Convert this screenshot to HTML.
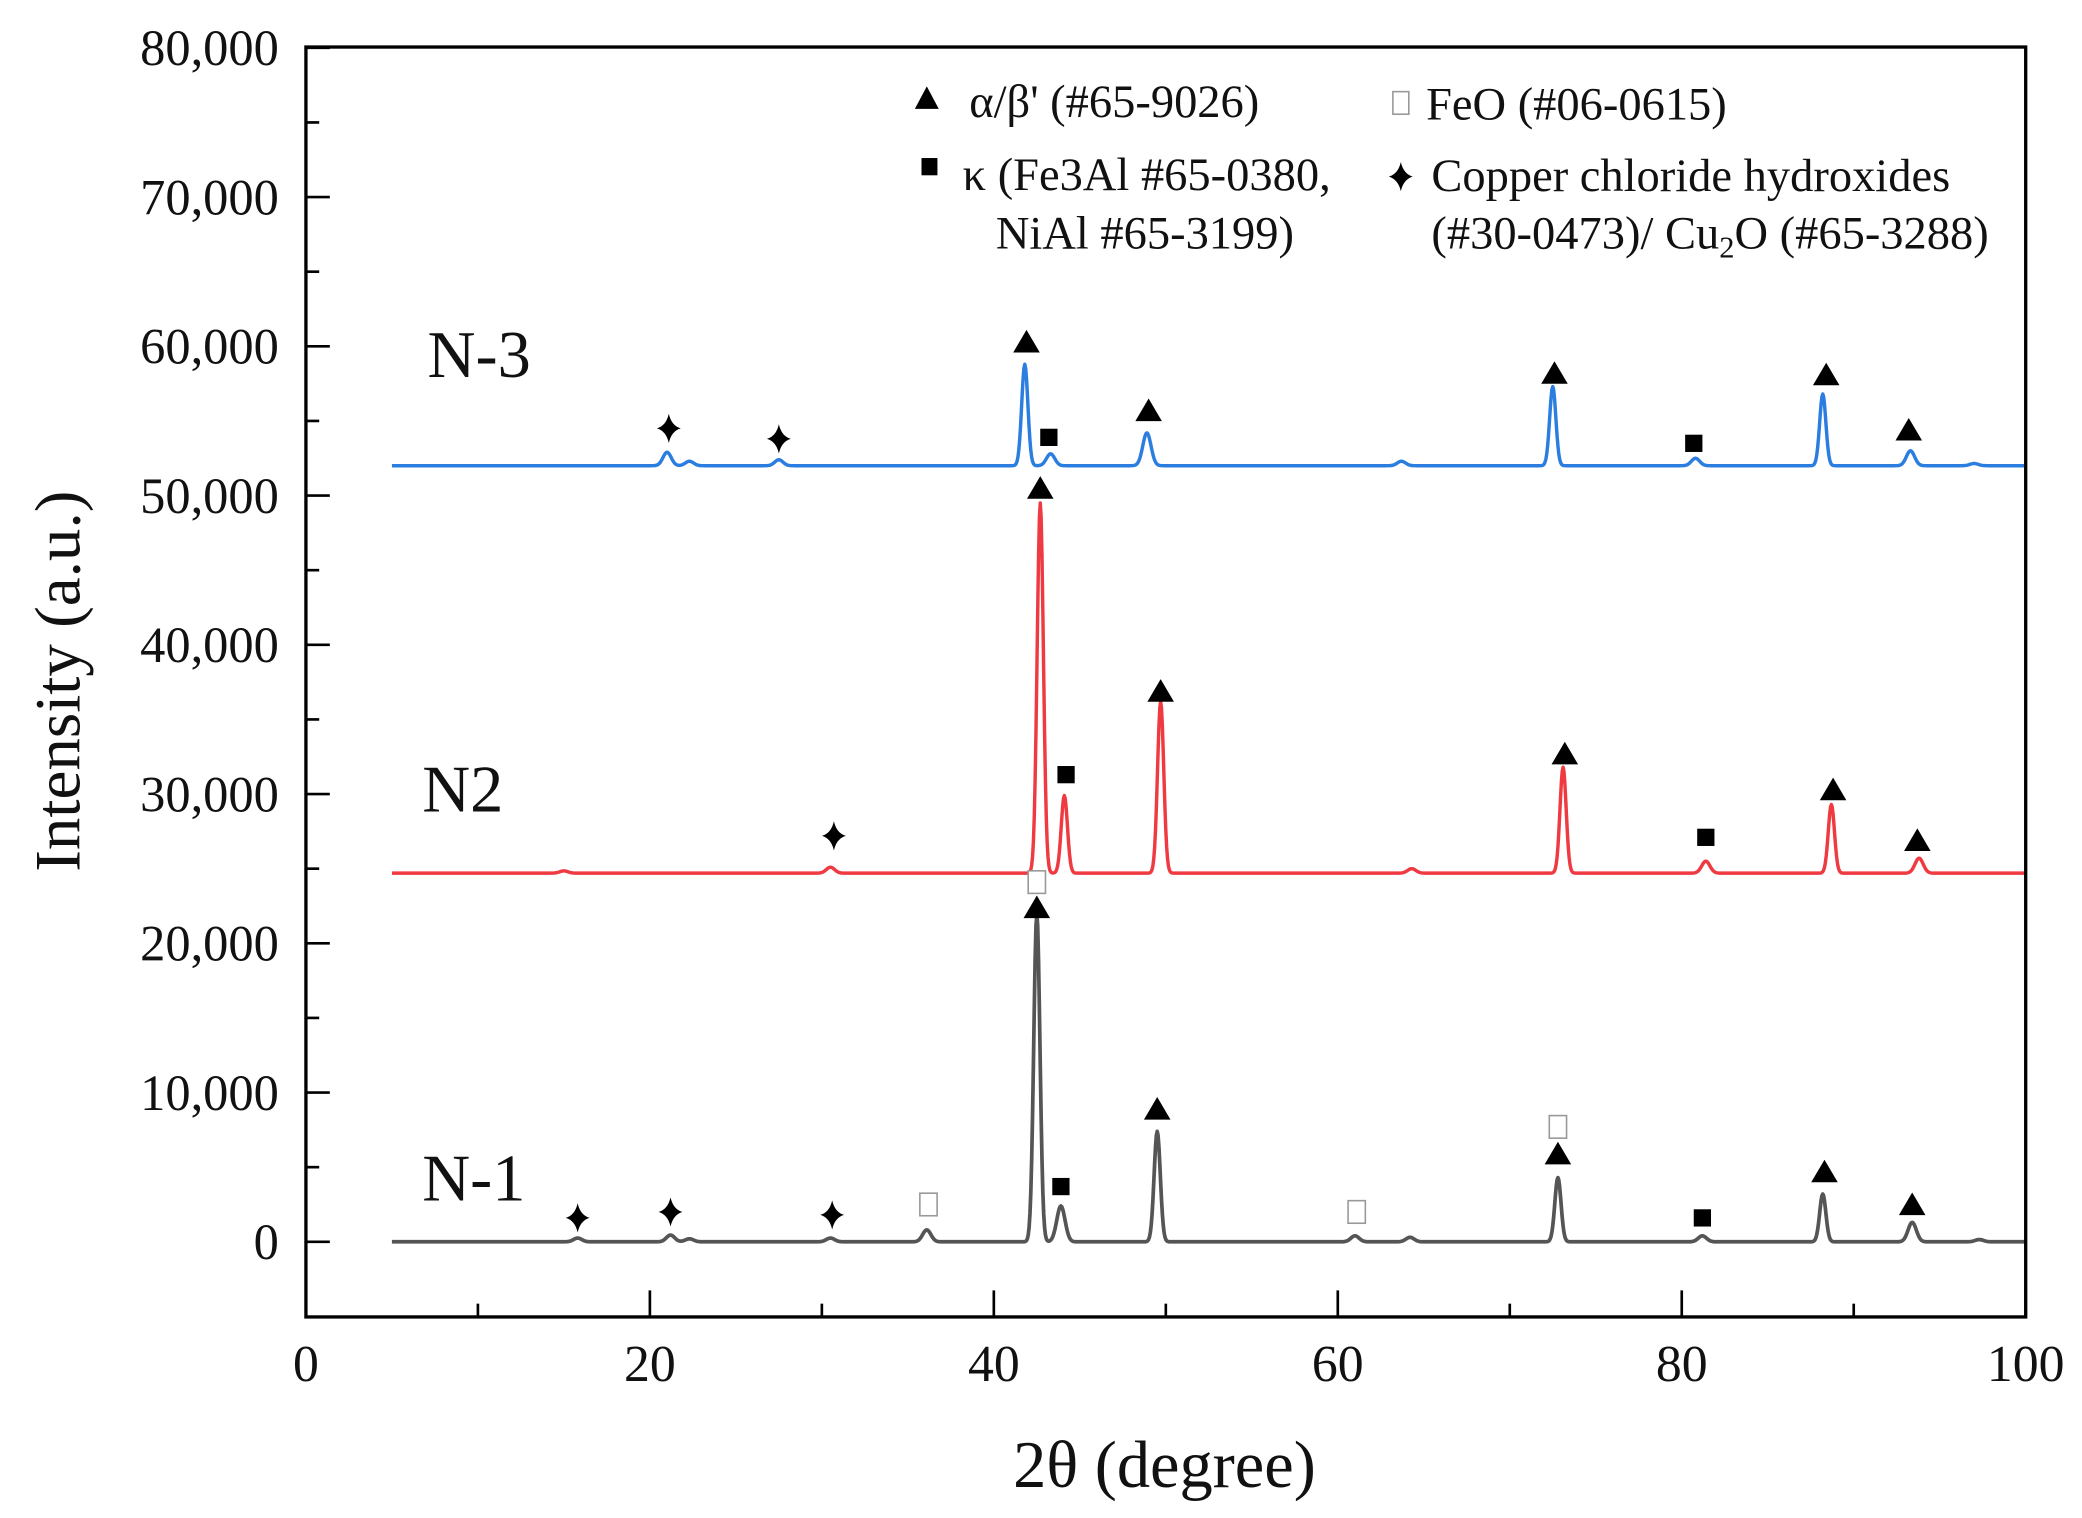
<!DOCTYPE html>
<html><head><meta charset="utf-8"><style>
html,body{margin:0;padding:0;background:#fff;}
svg{display:block;}
text{font-family:"Liberation Serif",serif;fill:#111;}
</style></head><body>
<svg id="chart" width="2082" height="1518" viewBox="0 0 1568 1143.2" xmlns="http://www.w3.org/2000/svg">
<g id="lines"></g>
<g id="markers"></g>
<g id="axes"></g>
<g font-size="35">
  <polygon points="698,65 689,82 707,82" fill="#000"/>
  <text x="730" y="88">α/β' (#65-9026)</text>
  <rect x="1049" y="69" width="12" height="17" fill="#fff" stroke="#999" stroke-width="1.2"/>
  <text x="1074" y="90">FeO (#06-0615)</text>
  <rect x="694" y="119" width="12" height="13" fill="#000"/>
  <text x="725" y="143">κ (Fe3Al  #65-0380,</text>
  <text x="750" y="187">NiAl  #65-3199)</text>
  <path d="M1055,122 Q1057,131 1064,133 Q1057,135 1055,144 Q1053,135 1046,133 Q1053,131 1055,122Z" fill="#000"/>
  <text x="1078" y="144">Copper chloride hydroxides</text>
  <text x="1078" y="187">(#30-0473)/ Cu<tspan font-size="23" dy="7">2</tspan><tspan dy="-7">O (#65-3288)</tspan></text>
</g>
<text x="322" y="284" font-size="50">N-3</text>
<text x="318" y="611" font-size="50">N2</text>
<text x="318" y="904" font-size="50">N-1</text>
<text x="877" y="1120" font-size="50" text-anchor="middle">2θ (degree)</text>
<text transform="translate(60,513) rotate(-90)" font-size="49" text-anchor="middle">Intensity (a.u.)</text>
</svg>
<script>
// ---- data ----
const xTicks = [0,20,40,60,80,100];
const yTicks = [0,10000,20000,30000,40000,50000,60000,70000,80000];
const yTickLabels = ["0","10,000","20,000","30,000","40,000","50,000","60,000","70,000","80,000"];
const n1Baseline = 0;
const n1PeakPos = [15.8,21.2,22.3,30.5,36.1,42.5,43.9,49.5,61.0,64.2,72.8,81.2,88.2,93.4,97.3];
const n1PeakHt  = [250,450,200,250,800,22000,2400,7400,400,300,4300,400,3200,1300,150];
const n2Baseline = 24700;
const n2PeakPos = [15.0,30.5,42.7,44.1,49.7,64.3,73.1,81.4,88.7,93.8];
const n2PeakHt  = [150,400,24800,5200,11500,300,7100,800,4600,1000];
const n3Baseline = 52000;
const n3PeakPos = [21.0,22.3,27.5,41.8,43.3,48.9,63.7,72.5,80.8,88.2,93.3,97.0];
const n3PeakHt  = [900,300,400,6800,800,2200,300,5300,500,4800,1000,150];
const markerX = [21.1,27.5,41.9,43.2,49.0,72.6,80.7,88.4,93.2, 30.7,42.7,44.2,49.7,73.2,81.4,88.8,93.7, 15.8,21.2,30.6,36.2,42.5,42.5,43.9,49.5,61.1,72.8,72.8,81.2,88.3,93.4];
const markerY = [54500,53800,60300,53900,55700,58200,53500,58100,54400, 27200,50500,31300,36900,32700,27100,30300,26900, 1600,2000,1800,2500,24100,22400,3700,8900,2000,7700,5900,1600,4700,2500];
const markerType = ["star","star","tri","sq","tri","tri","sq","tri","tri", "star","tri","sq","tri","tri","sq","tri","tri", "star","star","star","open","open","tri","sq","tri","open","open","tri","sq","tri","tri"];

// ---- axes functions ----
const L=230.4,R=1525.6,T=35.4,B=991.8,Y0=935.2,PY=112.4/10000;
const sx=v=>L+(v/100)*(R-L);
const sy=v=>Y0-v*PY;
const NS="http://www.w3.org/2000/svg";
function mk(tag,attrs,parent){const e=document.createElementNS(NS,tag);for(const k in attrs)e.setAttribute(k,attrs[k]);parent.appendChild(e);return e;}

// ---- series ----
const lines=document.getElementById('lines');
function profile(base,pos,ht){
  let d="";
  for(let i=0;i<=1900;i++){
    const x=5+i*0.05;let y=base;
    for(let j=0;j<pos.length;j++){const s=ht[j]>3000?0.18:0.24;const z=(x-pos[j])/s;y+=ht[j]*Math.exp(-0.5*z*z);}
    d+=(i?"L":"M")+sx(x).toFixed(2)+","+sy(y).toFixed(2);
  }
  return d;
}
const p1=mk('path',{d:profile(n1Baseline,n1PeakPos,n1PeakHt),fill:'none',stroke:'#555','stroke-width':2.8,'stroke-linejoin':'round'},lines);


const p2=mk('path',{d:profile(n2Baseline,n2PeakPos,n2PeakHt),fill:'none',stroke:'#ef3a42','stroke-width':2.6,'stroke-linejoin':'round'},lines);


const p3=mk('path',{d:profile(n3Baseline,n3PeakPos,n3PeakHt),fill:'none',stroke:'#2b7de0','stroke-width':2.6,'stroke-linejoin':'round'},lines);



// ---- markers ----
const mg=document.getElementById('markers');
for(let i=0;i<markerX.length;i++){
  const cx=sx(markerX[i]),cy=sy(markerY[i]);let e;
  if(markerType[i]==='tri'){e=mk('polygon',{points:`${cx},${cy-9} ${cx-10},${cy+8} ${cx+10},${cy+8}`,fill:'#000'},mg);}
  else if(markerType[i]==='sq'){e=mk('rect',{x:cx-6.5,y:cy-6.5,width:13,height:13,fill:'#000'},mg);}
  else if(markerType[i]==='open'){e=mk('rect',{x:cx-6.5,y:cy-8.5,width:13,height:17,fill:'#fff',stroke:'#999','stroke-width':1.2},mg);}
  else {e=mk('path',{d:`M${cx},${cy-11} Q${cx+2},${cy-2} ${cx+9},${cy} Q${cx+2},${cy+2} ${cx},${cy+11} Q${cx-2},${cy+2} ${cx-9},${cy} Q${cx-2},${cy-2} ${cx},${cy-11}Z`,fill:'#000'},mg);}
  
  
}

// ---- axes ----
const ag=document.getElementById('axes');
const frame=mk('rect',{x:L,y:T,width:R-L,height:B-T,fill:'none',stroke:'#000','stroke-width':2.5},ag);


for(let v=0;v<=100;v+=10){
  const maj=v%20===0;
  const t=mk('line',{x1:sx(v),x2:sx(v),y1:B,y2:B-(maj?20:10),stroke:'#000','stroke-width':2},ag);
  
  
}
xTicks.forEach(v=>{
  const t=mk('text',{x:sx(v),y:1040,'font-size':39,'text-anchor':'middle'},ag);t.textContent=v;
  
  
});
for(let v=0;v<=80000;v+=5000){
  const maj=v%10000===0;
  const t=mk('line',{x1:L,x2:L+(maj?18:10),y1:sy(v),y2:sy(v),stroke:'#000','stroke-width':2},ag);
  
  
}
yTicks.forEach((v,i)=>{
  const t=mk('text',{x:210,y:sy(v)+13,'font-size':38,'text-anchor':'end'},ag);t.textContent=yTickLabels[i];
  
  
});
</script>
</body></html>
